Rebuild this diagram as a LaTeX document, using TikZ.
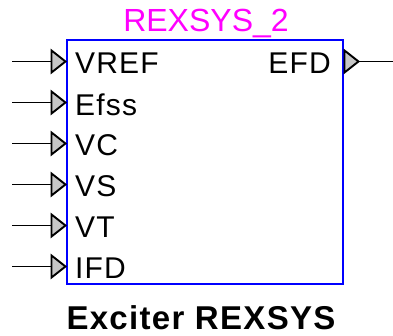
\documentclass[tikz,border=0pt]{standalone}
\usepackage{fontspec}
\setmainfont{Liberation Sans}
\newfontfamily\pinfont[LetterSpace=4]{Liberation Sans}
\usetikzlibrary{positioning}
\definecolor{pinkname}{RGB}{255,0,255}

\begin{document}
\begin{tikzpicture}[x=1pt, y=-1pt,
  block/.style={draw=blue, line width=1.8pt, minimum width=276pt, minimum height=244pt, inner sep=0pt},
  pics/pinhead/.style={code={
    \draw[line width=1.9pt, line join=miter, fill=gray!45] (0,0) -- (-14,-11) -- (-14,11) -- cycle;
    \coordinate (-base) at (-14,0);}},
  pics/outhead/.style={code={
    \draw[line width=1.9pt, line join=miter, fill=gray!45] (14,0) -- (0,-11) -- (0,11) -- cycle;
    \coordinate (-apex) at (14,0);}},
  wire/.style={line width=1.8pt},
  lbl/.style={font=\fontsize{30}{32}\pinfont, inner sep=0pt, text depth=0pt},
  ttl/.style={font=\fontsize{32}{34}\selectfont, text=pinkname, inner sep=0pt}]
\useasboundingbox (0,0) rectangle (393,336);
\node[block] (rexsys) at (205,162) {};
\node[ttl, anchor=base] (name) at (206,31.5) {REXSYS\_2};
% inputs
\pic (vref) at (65.5,61.5) {pinhead};
\pic (efss) at (65.5,102.5) {pinhead};
\pic (vc) at (65.5,143.5) {pinhead};
\pic (vs) at (65.5,184.5) {pinhead};
\pic (vt) at (65.5,225.5) {pinhead};
\pic (ifd) at (65.5,266.5) {pinhead};
\coordinate (vref-in) at (12,61.5);
\coordinate (efss-in) at (12,102.5);
\coordinate (vc-in) at (12,143.5);
\coordinate (vs-in) at (12,184.5);
\coordinate (vt-in) at (12,225.5);
\coordinate (ifd-in) at (12,266.5);
\draw[wire] (vref-in) -- (vref-base);
\draw[wire] (efss-in) -- (efss-base);
\draw[wire] (vc-in) -- (vc-base);
\draw[wire] (vs-in) -- (vs-base);
\draw[wire] (vt-in) -- (vt-base);
\draw[wire] (ifd-in) -- (ifd-base);
\node[lbl, anchor=west] (vref-l) at (75,63.5) {VREF};
\node[lbl, anchor=west] (efss-l) at (75,104.5) {Efss};
\node[lbl, anchor=west] (vc-l) at (75,145.5) {VC};
\node[lbl, anchor=west] (vs-l) at (75,186.5) {VS};
\node[lbl, anchor=west] (vt-l) at (75,227.5) {VT};
\node[lbl, anchor=west] (ifd-l) at (75,268.5) {IFD};
% output
\pic (efd) at (344.5,61.5) {outhead};
\coordinate (efd-out) at (393,61.5);
\draw[wire] (efd-apex) -- (efd-out);
\node[lbl, anchor=east] (efd-l) at (331,63.5) {EFD};
\node[font=\fontsize{33}{35}\pinfont\bfseries, inner sep=0pt, anchor=base] (caption) at (201,329) {Exciter REXSYS};
\end{tikzpicture}
\end{document}
